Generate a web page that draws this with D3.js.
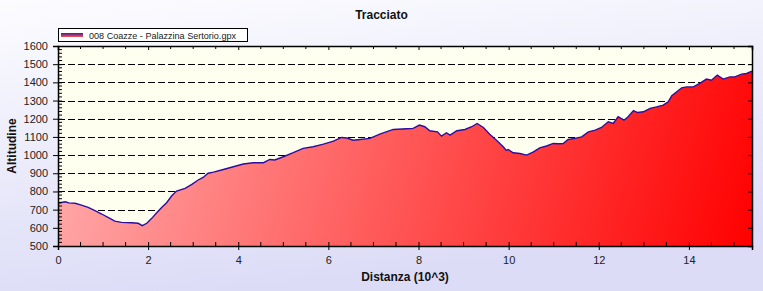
<!DOCTYPE html>
<html>
<head>
<meta charset="utf-8">
<script src="https://cdn.jsdelivr.net/npm/d3@7"></script>
<style>
  body { margin: 0; padding: 0; }
  svg { display: block; }
  text { font-family: "Liberation Sans", Arial, sans-serif; }
</style>
</head>
<body>
<svg id="chart"></svg>
<script>
const svgWidth = 763;
const svgHeight = 291;

// distance (km x 10^3) and altitude (m)
var distanza = [0, 0.16, 0.24, 0.38, 0.52, 0.67, 0.82, 0.97, 1.12, 1.26, 1.41, 1.63, 1.78, 1.87, 1.97,
  2.08, 2.19, 2.30, 2.41, 2.52, 2.63, 2.82, 2.97, 3.11, 3.22, 3.33, 3.45, 3.67, 3.89, 4.11,
  4.33, 4.56, 4.70, 4.81, 5.00, 5.22, 5.44, 5.66, 5.89, 6.11, 6.29, 6.41, 6.55, 6.70, 6.92,
  7.14, 7.44, 7.74, 7.88, 8.02, 8.14, 8.25, 8.42, 8.51, 8.62, 8.70, 8.85, 9.03, 9.18, 9.30,
  9.44, 9.58, 9.73, 9.88, 9.95, 9.99, 10.10, 10.25, 10.40, 10.55, 10.69, 10.84, 10.99, 11.10,
  11.21, 11.32, 11.47, 11.62, 11.77, 11.92, 12.06, 12.21, 12.32, 12.43, 12.56, 12.65, 12.77,
  12.86, 12.99, 13.14, 13.28, 13.43, 13.54, 13.62, 13.73, 13.84, 13.95, 14.10, 14.24, 14.39,
  14.50, 14.63, 14.76, 14.91, 15.02, 15.17, 15.28, 15.40];
var altitudine = [735, 743, 737, 735, 725, 712, 694, 676, 656, 637, 630, 628, 625, 612, 625,
  652, 683, 712, 738, 775, 802, 817, 839, 863, 877, 900, 906, 921, 936, 951,
  958, 958, 976, 973, 991, 1013, 1037, 1046, 1060, 1077, 1097, 1094, 1082, 1086, 1092,
  1115, 1141, 1145, 1147, 1165, 1156, 1134, 1128, 1104, 1123, 1110, 1134, 1141, 1156, 1174,
  1152, 1115, 1082, 1046, 1026, 1031, 1013, 1009, 1000, 1018, 1040, 1050, 1064, 1062,
  1064, 1086, 1092, 1100, 1128, 1137, 1152, 1183, 1174, 1211, 1192, 1211, 1245,
  1234, 1238, 1257, 1265, 1275, 1293, 1326, 1348, 1370, 1375, 1375, 1394, 1418,
  1412, 1440, 1418, 1430, 1430, 1445, 1449, 1462];

var yTicks = [500, 600, 700, 800, 900, 1000, 1100, 1200, 1300, 1400, 1500, 1600];
var xTicks = [0, 2, 4, 6, 8, 10, 12, 14];
var titolo = "Tracciato";
var serieNome = "008 Coazze - Palazzina Sertorio.gpx";

var margin = { top: 46, right: 11, bottom: 45, left: 58 };
var innerWidth = svgWidth - margin.left - margin.right;
var innerHeight = svgHeight - margin.top - margin.bottom;

const svg = d3.select("#chart")
  .attr("width", svgWidth)
  .attr("height", svgHeight);

var defs = svg.append("defs");

var bgGrad = defs.append("linearGradient")
  .attr("id", "bgGrad")
  .attr("x1", "0").attr("y1", "0").attr("x2", "0.3").attr("y2", "1");
bgGrad.append("stop").attr("offset", "0").attr("stop-color", "#fcfcff");
bgGrad.append("stop").attr("offset", "1").attr("stop-color", "#dcdcf7");

var areaGrad = defs.append("linearGradient")
  .attr("id", "areaGrad")
  .attr("gradientUnits", "userSpaceOnUse")
  .attr("x1", 0).attr("y1", 0)
  .attr("x2", innerWidth).attr("y2", innerHeight);
areaGrad.append("stop").attr("offset", "0").attr("stop-color", "#ffb0b0");
areaGrad.append("stop").attr("offset", "1").attr("stop-color", "#ff0000");

var legGrad = defs.append("linearGradient")
  .attr("id", "legGrad")
  .attr("x1", "0").attr("y1", "0").attr("x2", "0").attr("y2", "1");
legGrad.append("stop").attr("offset", "0").attr("stop-color", "#3020a0");
legGrad.append("stop").attr("offset", "1").attr("stop-color", "#ff5050");

// page background
svg.append("rect")
  .attr("width", svgWidth).attr("height", svgHeight)
  .attr("fill", "url(#bgGrad)");

// title
svg.append("text")
  .attr("x", svgWidth / 2).attr("y", 19)
  .attr("text-anchor", "middle")
  .attr("font-size", "12px").attr("font-weight", "bold")
  .attr("fill", "#111")
  .text(titolo);

var x = d3.scaleLinear().domain([0, 15.4]).range([0, innerWidth]);
var y = d3.scaleLinear().domain([500, 1600]).range([innerHeight, 0]);

var graph = svg.append("g")
  .attr("transform", "translate(" + margin.left + "," + margin.top + ")");

graph.append("rect")
  .attr("width", innerWidth).attr("height", innerHeight)
  .attr("fill", "#fffff0");

// dashed grid
graph.append("g")
  .selectAll("line")
  .data(yTicks.slice(1, -1))
  .enter().append("line")
    .attr("x1", 0).attr("x2", innerWidth)
    .attr("y1", function(d) { return Math.round(y(d)) + 0.5; })
    .attr("y2", function(d) { return Math.round(y(d)) + 0.5; })
    .attr("stroke", "#000")
    .attr("stroke-dasharray", "7,3");

var data = distanza.map(function(d, i) { return { d: d, a: altitudine[i] }; });

var area = d3.area()
  .x(function(p) { return x(p.d); })
  .y0(innerHeight)
  .y1(function(p) { return y(p.a); });

var line = d3.line()
  .x(function(p) { return x(p.d); })
  .y(function(p) { return y(p.a); });

graph.append("path")
  .datum(data)
  .attr("d", area)
  .attr("fill", "url(#areaGrad)");

graph.append("path")
  .datum(data)
  .attr("d", line)
  .attr("fill", "none")
  .attr("stroke", "#2a0fa0")
  .attr("stroke-width", 1.4);

// axes
var xMinor = d3.range(0, 15.5, 0.5);
var yMinor = d3.range(500, 1601, 20);

var bottomAxis = graph.append("g")
  .attr("transform", "translate(0," + innerHeight + ")")
  .call(d3.axisBottom(x).tickValues(xTicks).tickSize(4).tickPadding(6).tickFormat(d3.format("d")));
bottomAxis.selectAll(".tick line").attr("y1", -4);
bottomAxis.append("g").selectAll("line")
  .data(xMinor.filter(function(d) { return d % 2 !== 0; }))
  .enter().append("line")
    .attr("x1", function(d) { return x(d); }).attr("x2", function(d) { return x(d); })
    .attr("y1", 0).attr("y2", -4).attr("stroke", "#000");

var leftAxis = graph.append("g")
  .call(d3.axisLeft(y).tickValues(yTicks).tickSize(5).tickPadding(5).tickFormat(d3.format("d")));
leftAxis.selectAll(".tick line").attr("x1", 4);
leftAxis.append("g").selectAll("line")
  .data(yMinor.filter(function(d) { return d % 100 !== 0; }))
  .enter().append("line")
    .attr("y1", function(d) { return y(d); }).attr("y2", function(d) { return y(d); })
    .attr("x1", 0).attr("x2", 4).attr("stroke", "#000");

var topAxis = graph.append("g")
  .call(d3.axisTop(x).tickValues(xTicks).tickSize(-4).tickFormat(""));
topAxis.append("g").selectAll("line")
  .data(xMinor.filter(function(d) { return d % 2 !== 0; }))
  .enter().append("line")
    .attr("x1", function(d) { return x(d); }).attr("x2", function(d) { return x(d); })
    .attr("y1", 0).attr("y2", 3).attr("stroke", "#000");

graph.append("g")
  .attr("transform", "translate(" + innerWidth + ",0)")
  .call(d3.axisRight(y).tickValues(yTicks).tickSize(-4).tickFormat(""));

graph.selectAll(".domain").attr("stroke", "#000").attr("stroke-width", 1.5);
graph.selectAll(".tick text").attr("font-size", "11px").attr("fill", "#222")
  .attr("font-family", "'Liberation Sans', Arial, sans-serif");

// axis titles
svg.append("text")
  .attr("x", margin.left + innerWidth / 2).attr("y", 281)
  .attr("text-anchor", "middle")
  .attr("font-size", "12px").attr("font-weight", "bold")
  .attr("fill", "#111")
  .text("Distanza (10^3)");

svg.append("text")
  .attr("transform", "translate(16," + (margin.top + innerHeight / 2) + ") rotate(-90)")
  .attr("text-anchor", "middle")
  .attr("font-size", "12px").attr("font-weight", "bold")
  .attr("fill", "#111")
  .text("Altitudine");

// legend
var legend = svg.append("g").attr("transform", "translate(58,28)");
legend.append("rect")
  .attr("x", 0.5).attr("y", 0.5).attr("width", 189).attr("height", 13)
  .attr("fill", "#fff").attr("stroke", "#000");
legend.append("rect")
  .attr("x", 3).attr("y", 5).attr("width", 22).attr("height", 4)
  .attr("fill", "url(#legGrad)");
legend.append("text")
  .attr("x", 31).attr("y", 10.5)
  .attr("font-size", "9.5px").attr("fill", "#222")
  .attr("textLength", 147).attr("lengthAdjust", "spacingAndGlyphs")
  .text(serieNome);
</script>
</body>
</html>
